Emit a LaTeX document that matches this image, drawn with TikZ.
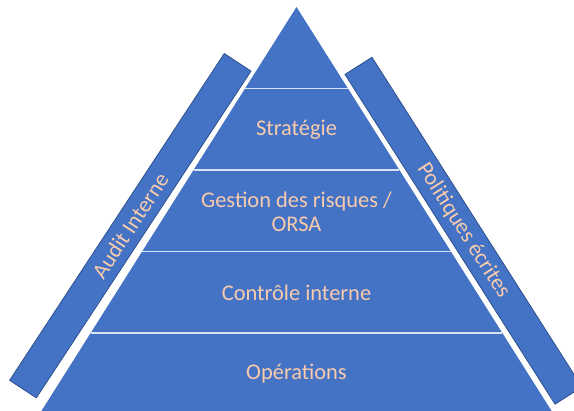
\documentclass[tikz,border=0pt]{standalone}
\usepackage{fontspec}
\setmainfont{Carlito}
\setsansfont{Carlito}
\RequirePackage{xcolor}
\definecolor{pyrblue}{HTML}{4472C4}
\definecolor{pyredge}{HTML}{2F528F}
\definecolor{pyrtext}{HTML}{F8CBAD}
\definecolor{pyrline}{HTML}{D9E2F3}
\tikzset{every picture/.style={/utils/exec={\sffamily}}}
\usetikzlibrary{calc}
\usetikzlibrary{positioning}

\begin{document}
\begin{tikzpicture}[x=1bp, y=-1bp,
  layer/.style={text=pyrtext, align=center, font=\fontsize{22.5}{24.5}\selectfont},
  sidebar/.style={draw=pyredge, line width=0.8bp, fill=pyrblue,
    minimum width=391bp, minimum height=32bp, inner sep=0pt,
    text=pyrtext, font=\fontsize{22.5}{24.5}\selectfont},
  divider/.style={draw=pyrline, line width=1.5bp},
  ]

  \clip (0,0) rectangle (574,410);

  \coordinate (apex) at (296.5,7);
  \coordinate (bl) at (39.2,414.5);
  \coordinate (br) at (553.8,414.5);

  \fill [pyrblue] (apex) -- (bl) -- (br) -- cycle;

  \foreach \t in {0.2,0.4,0.6,0.8}
    \draw [divider] ($(apex)!\t!(bl)$) -- ($(apex)!\t!(br)$);

  \node [layer] (strategie) at (296.5,129.5) {Stratégie};
  \node [layer] (risques) at (296.5,211.5) {Gestion des risques /\\ORSA};
  \node [layer] (controle) at (296.5,292.5) {Contrôle interne};
  \node [layer] (operations) at (296.5,374) {Opérations};

  \node [sidebar, rotate=56.7] (audit) at (130.3,225.7) {Audit Interne};
  \node [sidebar, rotate=-57.5] (politiques) at (463.5,230.7) {Politiques écrites};

  % TODO: shadow under the side bars?

\end{tikzpicture}
\end{document}
